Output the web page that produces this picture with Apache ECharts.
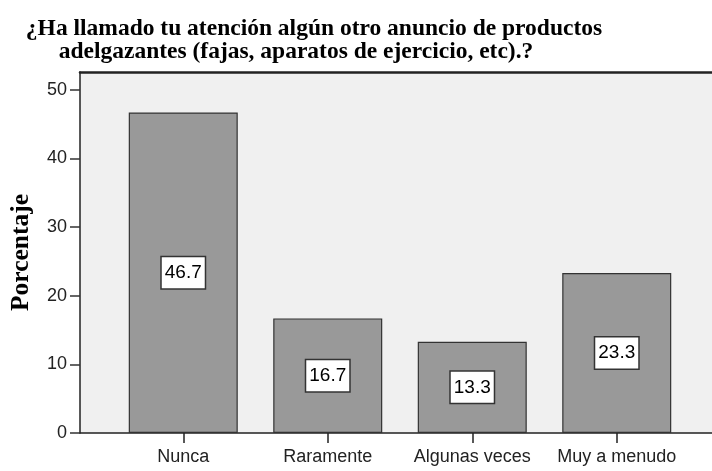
<!DOCTYPE html>
<html>
<head>
<meta charset="utf-8">
<script src="https://cdn.jsdelivr.net/npm/echarts@6/dist/echarts.min.js"></script>
<style>html,body{margin:0;padding:0;background:#fff}#c{width:712px;height:471px}</style>
</head>
<body>
<div id="c"></div>
<script>
const titleLines = ['¿Ha llamado tu atención algún otro anuncio de productos', 'adelgazantes (fajas, aparatos de ejercicio, etc).?'];
const categories = ['Nunca', 'Raramente', 'Algunas veces', 'Muy a menudo'];
const values = [46.7, 16.7, 13.3, 23.3];
const yTicks = [0, 10, 20, 30, 40, 50];
const yName = 'Porcentaje';

const chart = echarts.init(document.getElementById('c'));
const serif = '"Liberation Serif", "Times New Roman", serif';
const sans = '"Liberation Sans", Arial, sans-serif';
const yMax = 52.6;

chart.setOption({
  animation: false,
  backgroundColor: '#ffffff',
  title: [
    { text: titleLines[0], left: 309, top: 12, textAlign: 'center',
      textStyle: { fontFamily: serif, fontWeight: 'bold', fontSize: 23.5, color: '#000' } },
    { text: titleLines[1], left: 291, top: 35, textAlign: 'center',
      textStyle: { fontFamily: serif, fontWeight: 'bold', fontSize: 23.5, color: '#000' } }
  ],
  grid: [
    { left: 79, top: 72, width: 660, height: 361, show: true, backgroundColor: '#F0F0F0', borderWidth: 0 },
    { left: 111, top: 72, width: 578, height: 361 }
  ],
  xAxis: [
    { gridIndex: 0, type: 'value', min: 0, max: 1, position: 'bottom',
      axisLine: { show: true, lineStyle: { color: '#222', width: 1.5 } },
      axisTick: { show: false }, axisLabel: { show: false }, splitLine: { show: false } },
    { gridIndex: 0, type: 'value', min: 0, max: 1, position: 'top',
      axisLine: { show: true, lineStyle: { color: '#222', width: 2.5 } },
      axisTick: { show: false }, axisLabel: { show: false }, splitLine: { show: false } },
    { gridIndex: 1, type: 'category', data: categories, position: 'bottom',
      axisLine: { show: false },
      axisTick: { show: true, alignWithLabel: true, interval: 0, length: 10, lineStyle: { color: '#222', width: 1.5 } },
      axisLabel: { show: true, interval: 0, margin: 15, fontFamily: sans, fontSize: 18, color: '#222' },
      splitLine: { show: false } }
  ],
  yAxis: [
    { gridIndex: 0, type: 'value', min: 0, max: yMax,
      name: yName, nameLocation: 'middle', nameRotate: 90, nameGap: 46,
      nameTextStyle: { fontFamily: serif, fontWeight: 'bold', fontSize: 25.5, color: '#000' },
      axisLine: { show: true, lineStyle: { color: '#222', width: 1.5 } },
      axisTick: { show: true, length: 10, customValues: yTicks, lineStyle: { color: '#333', width: 1.5 } },
      axisLabel: { show: true, customValues: yTicks, margin: 13, fontFamily: sans, fontSize: 18, color: '#222' },
      splitLine: { show: false } },
    { gridIndex: 1, type: 'value', min: 0, max: yMax, show: false }
  ],
  series: [{
    type: 'bar',
    xAxisIndex: 2,
    yAxisIndex: 1,
    data: values,
    barWidth: 109,
    itemStyle: { color: '#999999', borderColor: '#333', borderWidth: 1.2 },
    label: {
      show: true, position: 'inside',
      formatter: p => p.value.toFixed(1),
      fontFamily: sans, fontSize: 19, color: '#000',
      backgroundColor: '#ffffff', borderColor: '#333', borderWidth: 1.5,
      padding: [6, 3, 5, 3], lineHeight: 20
    }
  }]
});
</script>
</body>
</html>
